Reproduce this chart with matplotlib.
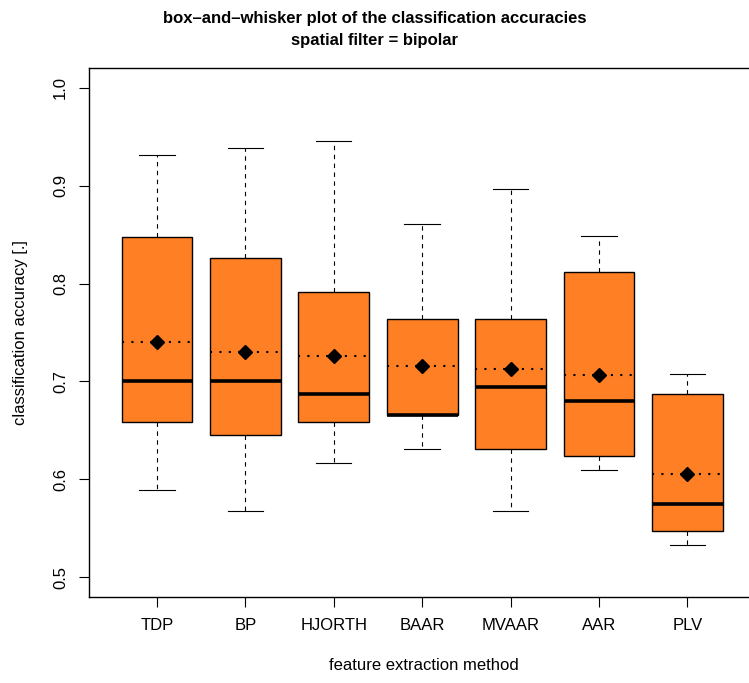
import matplotlib
matplotlib.use("Agg")
import matplotlib.pyplot as plt

plt.rcParams['font.family'] = ['Liberation Sans', 'DejaVu Sans']

methods = ["TDP", "BP", "HJORTH", "BAAR", "MVAAR", "AAR", "PLV"]
whisk_lo = [0.589, 0.568, 0.617, 0.631, 0.568, 0.610, 0.533]
q1       = [0.659, 0.645, 0.659, 0.666, 0.631, 0.624, 0.547]
medians  = [0.701, 0.701, 0.687, 0.666, 0.694, 0.680, 0.575]
q3       = [0.847, 0.826, 0.791, 0.764, 0.764, 0.812, 0.687]
whisk_hi = [0.931, 0.938, 0.945, 0.861, 0.896, 0.848, 0.708]
means    = [0.740, 0.730, 0.726, 0.716, 0.713, 0.707, 0.606]

yticks = [0.5, 0.6, 0.7, 0.8, 0.9, 1.0]

W, H = 749, 683
fig = plt.figure(figsize=(W / 100, H / 100), dpi=100)
ax = fig.add_axes([89 / W, (H - 597) / H, (758 - 89) / W, (597 - 68) / H])

stats = []
for i, m in enumerate(methods):
    stats.append(dict(label=m, whislo=whisk_lo[i], q1=q1[i], med=medians[i],
                      q3=q3[i], whishi=whisk_hi[i], fliers=[]))

positions = list(range(1, len(methods) + 1))
ax.bxp(stats, positions=positions, widths=0.8, patch_artist=True, showfliers=False,
       boxprops=dict(facecolor="#FF7F24", edgecolor="black", linewidth=1.0),
       medianprops=dict(color="black", linewidth=2.6, solid_capstyle="butt"),
       whiskerprops=dict(color="black", linewidth=0.8, linestyle=(0, (4, 4))),
       capprops=dict(color="black", linewidth=0.8),
       capwidths=0.4)

for p, mval in zip(positions, means):
    ax.plot([p - 0.4, p + 0.4], [mval, mval], color="black", linewidth=1.5,
            linestyle=(0, (1, 3.5)), dash_capstyle="butt", zorder=4)
ax.plot(positions, means, linestyle="none", marker="D", markersize=7,
        color="black", zorder=5)

ax.set_xlim(0.23, 7.8)
ax.set_ylim(0.48, 1.02)
ax.set_yticks(yticks)
ax.set_yticklabels([f"{v:.1f}" for v in yticks], rotation=90, va="center", fontsize=12)
ax.set_xticks(positions)
ax.set_xticklabels(methods, fontsize=12)
ax.tick_params(axis="both", direction="out", length=7, width=0.8, pad=8)
for s in ax.spines.values():
    s.set_linewidth(1.0)

ax.set_xlabel("feature extraction method", fontsize=12, labelpad=18)
ax.set_ylabel("classification accuracy [.]", fontsize=12, labelpad=18)

fig.text(0.5, 1 - 18 / H, "box\u2013and\u2013whisker plot of the classification accuracies",
         ha="center", va="center", fontsize=12, fontweight="bold")
fig.text(0.5, 1 - 40 / H, "spatial filter = bipolar",
         ha="center", va="center", fontsize=12, fontweight="bold")

fig.savefig("out.png", dpi=100)
